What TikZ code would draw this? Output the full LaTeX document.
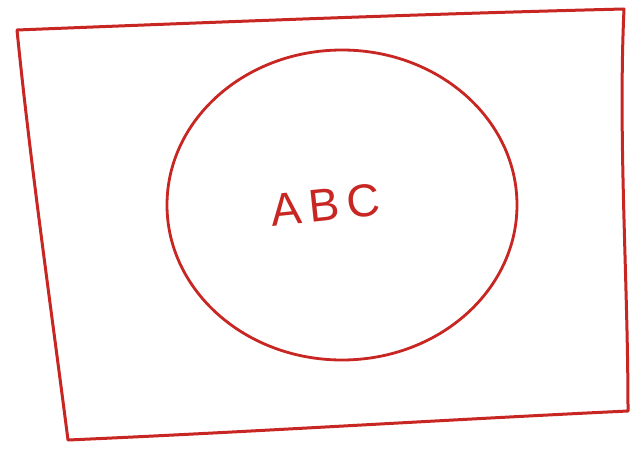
\documentclass[tikz,border=0pt]{standalone}
\usepackage{fontspec}
\setmainfont{Liberation Sans}
\definecolor{penred}{RGB}{200,38,34}
\tikzset{
  pen/.style={draw=penred, line width=3pt, line cap=round, line join=round},
  hand/.style={text=penred, font=\fontsize{46}{46}\selectfont}
}
\begin{document}
\begin{tikzpicture}[x=1pt,y=-1pt]
\useasboundingbox[fill=white] (0,0) rectangle (642,452);
% frame corners
\coordinate (tl) at (17,30);
\coordinate (tr) at (624,9);
\coordinate (br) at (628,411);
\coordinate (bl) at (68,440);
\draw[pen] (tl) .. controls (220,22) and (420,14) .. (tr)
  .. controls (618,140) and (628,280) .. (br)
  .. controls (440,420) and (250,432) .. (bl)
  .. controls (50,300) and (30,160) .. (tl);
% circle
\coordinate (cc) at (342,205);
\draw[pen, line width=2.8pt] (cc) ellipse[x radius=175, y radius=155];
\node[hand, rotate=6] (abc) at (325,205) {A\,B\,C};
\end{tikzpicture}
\end{document}
